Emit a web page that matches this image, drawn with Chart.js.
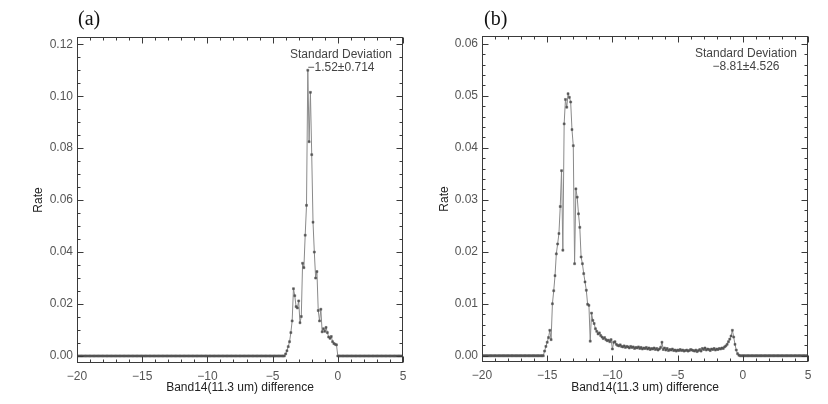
<!DOCTYPE html>
<html>
<head>
<meta charset="utf-8">
<script src="https://cdn.jsdelivr.net/npm/chart.js@4.4.1/dist/chart.umd.min.js"></script>
<style>
  html, body { margin: 0; padding: 0; background: #fff; }
  #wrap { position: relative; width: 828px; height: 404px; overflow: hidden; }
  .panel { position: absolute; top: 0; width: 414px; height: 404px; }
  #pa { left: 0; }
  #pb { left: 414px; }
  .tag { position: absolute; top: 6px; font: 20px "Liberation Serif", serif; line-height: 24px; color: #111; }
</style>
</head>
<body>
<div id="wrap">
  <div class="panel" id="pa">
    <canvas id="chartA" width="414" height="404"></canvas>
    <div class="tag" style="left:78px">(a)</div>
  </div>
  <div class="panel" id="pb">
    <canvas id="chartB" width="414" height="404"></canvas>
    <div class="tag" style="left:70px">(b)</div>
  </div>
</div>
<script>
// ==== Data ====
// histogram bins: -20 .. 5, width 0.1 (251 bins)
const binStart = -20;
const binWidth = 0.1;

const xTickValues = [-20, -15, -10, -5, 0, 5];
const yTicksA = [0, 0.02, 0.04, 0.06, 0.08, 0.10, 0.12];
const yTicksB = [0, 0.01, 0.02, 0.03, 0.04, 0.05, 0.06];

const noteA = ["Standard Deviation", "\u22121.52\u00b10.714"];
const noteB = ["Standard Deviation", "\u22128.81\u00b14.526"];

// (a) rate per bin
const rateA = [
  0,0,0,0,0,0,0,0,0,0, 0,0,0,0,0,0,0,0,0,0,   // -20.0 .. -18.1
  0,0,0,0,0,0,0,0,0,0, 0,0,0,0,0,0,0,0,0,0,   // -18.0 .. -16.1
  0,0,0,0,0,0,0,0,0,0, 0,0,0,0,0,0,0,0,0,0,   // -16.0 .. -14.1
  0,0,0,0,0,0,0,0,0,0, 0,0,0,0,0,0,0,0,0,0,   // -14.0 .. -12.1
  0,0,0,0,0,0,0,0,0,0, 0,0,0,0,0,0,0,0,0,0,   // -12.0 .. -10.1
  0,0,0,0,0,0,0,0,0,0, 0,0,0,0,0,0,0,0,0,0,   // -10.0 .. -8.1
  0,0,0,0,0,0,0,0,0,0, 0,0,0,0,0,0,0,0,0,0,   // -8.0 .. -6.1
  0,0,0,0,0,0,0,0,0,0, 0,0,0,0,0,0,0,0,0,0,   // -6.0 .. -4.1
  0.0008,0.0020,0.0036,0.0055,0.0090,0.0135,0.0259,0.0232,0.0190,0.0185, // -4.0 .. -3.1
  0.0212,0.0128,0.0152,0.0357,0.0340,0.0465,0.0580,0.1100,0.0825,0.1015, // -3.0 .. -2.1
  0.0775,0.0515,0.0400,0.0300,0.0325,0.0175,0.0135,0.0180,0.0093,0.0105, // -2.0 .. -1.1
  0.0095,0.0110,0.0090,0.0073,0.0068,0.0075,0.0055,0.0048,0.0045,0.0043, // -1.0 .. -0.1
  0,0,0,0,0,0,0,0,0,0, 0,0,0,0,0,0,0,0,0,0,   // 0.0 .. 1.9
  0,0,0,0,0,0,0,0,0,0, 0,0,0,0,0,0,0,0,0,0,   // 2.0 .. 3.9
  0,0,0,0,0,0,0,0,0,0, 0                      // 4.0 .. 5.0
];

// (b) rate per bin
const rateB = [
  0,0,0,0,0,0,0,0,0,0, 0,0,0,0,0,0,0,0,0,0,   // -20.0 .. -18.1
  0,0,0,0,0,0,0,0,0,0, 0,0,0,0,0,0,0,0,0,0,   // -18.0 .. -16.1
  0,0,0,0,0,0,0,0,                            // -16.0 .. -15.3
  0.0009,0.0018,                              // -15.2 .. -15.1
  0.0026,0.0035,0.0049,0.0031,0.0100,0.0125,0.0154,0.0196,0.0215,0.0235, // -15.0 .. -14.1
  0.0287,0.0356,0.0203,0.0446,0.0493,0.0478,0.0504,0.0497,0.0488,0.0435, // -14.0 .. -13.1
  0.0404,0.0177,0.0321,0.0305,0.0273,0.0247,0.0190,0.0177,0.0158,0.0142, // -13.0 .. -12.1
  0.0126,0.0099,0.0097,0.0028,0.0082,0.0068,0.0062,0.0052,0.0047,0.0042, // -12.0 .. -11.1
  0.0044,0.0039,0.0036,0.0033,0.0035,0.0031,0.0029,0.0030,0.0027,0.0031, // -11.0 .. -10.1
  0.0013,0.0026,0.0027,0.0022,0.0020,0.0019,0.0021,0.0018,0.0017,0.0019, // -10.0 .. -9.1
  0.0016,0.0018,0.0017,0.0015,0.0018,0.0016,0.0017,0.0014,0.0016,0.0015, // -9.0 .. -8.1
  0.0017,0.0014,0.0016,0.0013,0.0015,0.0014,0.0016,0.0013,0.0015,0.0012, // -8.0 .. -7.1
  0.0014,0.0013,0.0015,0.0012,0.0014,0.0011,0.0013,0.0016,0.0026,0.0012, // -7.0 .. -6.1
  0.0015,0.0011,0.0014,0.0010,0.0012,0.0011,0.0013,0.0010,0.0011,0.0009, // -6.0 .. -5.1
  0.0011,0.0010,0.0012,0.0010,0.0011,0.0009,0.0010,0.0011,0.0009,0.0010, // -5.0 .. -4.1
  0.0012,0.0011,0.0010,0.0009,0.0011,0.0008,0.0010,0.0012,0.0009,0.0014, // -4.0 .. -3.1
  0.0012,0.0015,0.0011,0.0013,0.0012,0.0010,0.0013,0.0012,0.0014,0.0011, // -3.0 .. -2.1
  0.0013,0.0012,0.0014,0.0013,0.0015,0.0014,0.0017,0.0019,0.0022,0.0027, // -2.0 .. -1.1
  0.0032,0.0038,0.0049,0.0036,0.0022,0.0011,0.0004,0.0001,0,0,          // -1.0 .. -0.1
  0,0,0,0,0,0,0,0,0,0, 0,0,0,0,0,0,0,0,0,0,   // 0.0 .. 1.9
  0,0,0,0,0,0,0,0,0,0, 0,0,0,0,0,0,0,0,0,0,   // 2.0 .. 3.9
  0,0,0,0,0,0,0,0,0,0, 0                      // 4.0 .. 5.0
];

// ==== Helpers ====
const toPoints = (ys) => ys.map((y, i) => ({ x: +(binStart + i * binWidth).toFixed(1), y }));
const minus = (s) => String(s).replace("-", "\u2212");

// frame + inward ticks on all four sides, plus the note text
const frameTicks = {
  id: "frameTicks",
  afterDraw(chart, args, opts) {
    const { ctx, chartArea: a, scales } = chart;
    const xs = scales.x, ys = scales.y;
    const L = Math.round(a.left) + 0.5, R = Math.round(a.right) - 0.5;
    const T = Math.round(a.top) + 0.5, B = Math.round(a.bottom) - 0.5;
    ctx.save();
    ctx.strokeStyle = "#3a3a3a";
    ctx.lineWidth = 1;
    ctx.strokeRect(L, T, R - L, B - T);

    const tick = (px, isX, len) => {
      ctx.beginPath();
      if (isX) {
        const p = Math.round(px) + 0.5;
        ctx.moveTo(p, B); ctx.lineTo(p, B - len);
        ctx.moveTo(p, T); ctx.lineTo(p, T + len);
      } else {
        const p = Math.round(px) + 0.5;
        ctx.moveTo(L, p); ctx.lineTo(L + len, p);
        ctx.moveTo(R, p); ctx.lineTo(R - len, p);
      }
      ctx.stroke();
    };
    // x ticks
    for (let v = xs.min; v <= xs.max + 1e-9; v += opts.xMinor) {
      const major = xTickValues.some((t) => Math.abs(t - v) < 1e-6);
      tick(xs.getPixelForValue(v), true, major ? 6 : 3);
    }
    // y ticks
    const yMajor = opts.yMajor;
    const top = yMajor[yMajor.length - 1];
    for (let k = 0; k * opts.yMinor <= ys.max + 1e-9; k++) {
      const v = k * opts.yMinor;
      const major = yMajor.some((t) => Math.abs(t - v) < 1e-9);
      tick(ys.getPixelForValue(v), false, major ? 6 : 3);
    }

    // note
    ctx.fillStyle = "#444";
    ctx.font = '12px "Liberation Sans", Arial, sans-serif';
    ctx.textAlign = "center";
    ctx.textBaseline = "middle";
    const cx = a.right - 62;
    ctx.fillText(opts.note[0], cx, a.top + 18);
    ctx.fillText(opts.note[1], cx, a.top + 31);
    ctx.restore();
  }
};

// ==== Chart builder ====
function makeChart(id, cfg) {
  return new Chart(document.getElementById(id), {
    type: "line",
    data: {
      datasets: [
        {
          data: toPoints(cfg.rates),
          borderColor: "#8a8a8a",
          borderWidth: 1,
          pointStyle: "rect",
          pointRadius: 1.4,
          pointBackgroundColor: "#555",
          pointBorderColor: "#555",
          pointBorderWidth: 0.5,
          tension: 0
        }
      ]
    },
    options: {
      responsive: false,
      animation: false,
      events: [],
      layout: { padding: { left: 0, top: cfg.padTop, right: cfg.padRight, bottom: 0 } },
      plugins: {
        legend: { display: false },
        tooltip: { enabled: false },
        frameTicks: { note: cfg.note, xMinor: 1, yMajor: cfg.yTicks, yMinor: cfg.yMinor }
      },
      scales: {
        x: {
          type: "linear",
          min: -20,
          max: 5,
          grid: { display: false, drawTicks: false },
          border: { display: false },
          afterBuildTicks: (s) => { s.ticks = xTickValues.map((v) => ({ value: v })); },
          afterFit: (s) => { s.height = cfg.xHeight; },
          ticks: {
            padding: 6,
            color: "#555",
            font: { family: "Liberation Sans", size: 12 },
            callback: (v) => minus(v)
          },
          title: {
            display: true,
            text: "Band14(11.3 um) difference",
            color: "#222",
            font: { family: "Liberation Sans", size: 12 },
            padding: { top: 0, bottom: 9 }
          }
        },
        y: {
          type: "linear",
          min: cfg.yMin,
          max: cfg.yMax,
          grid: { display: false, drawTicks: false },
          border: { display: false },
          afterBuildTicks: (s) => { s.ticks = cfg.yTicks.map((v) => ({ value: v })); },
          afterFit: (s) => { s.width = cfg.yWidth; },
          ticks: {
            padding: 4,
            color: "#555",
            font: { family: "Liberation Sans", size: 12 },
            callback: (v) => v.toFixed(2)
          },
          title: {
            display: true,
            text: "Rate",
            color: "#222",
            font: { family: "Liberation Sans", size: 12 },
            padding: { top: cfg.rateOffset, bottom: 0 }
          }
        }
      }
    },
    plugins: [frameTicks]
  });
}

// ==== Init ====
makeChart("chartA", {
  rates: rateA, note: noteA, yTicks: yTicksA, yMinor: 0.005,
  yMin: -0.0027, yMax: 0.1228,
  yWidth: 77, xHeight: 41, padTop: 37, padRight: 11, rateOffset: 31
});
makeChart("chartB", {
  rates: rateB, note: noteB, yTicks: yTicksB, yMinor: 0.002,
  yMin: -0.0012, yMax: 0.0615,
  yWidth: 68, xHeight: 42, padTop: 36, padRight: 20, rateOffset: 23
});
</script>
</body>
</html>
